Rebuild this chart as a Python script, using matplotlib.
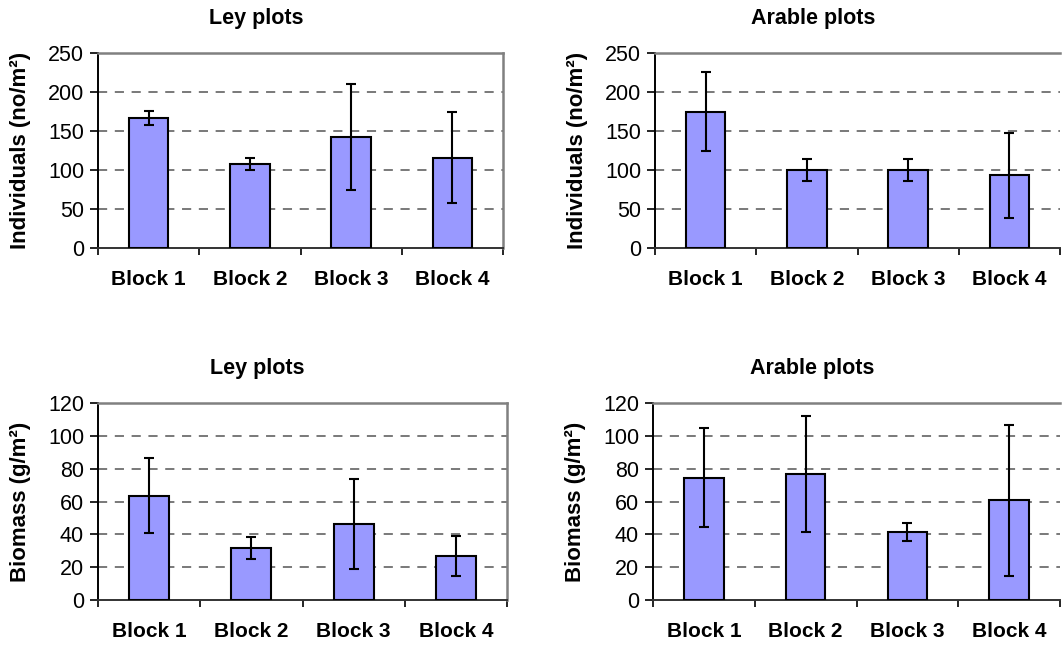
import numpy as np
import matplotlib
matplotlib.use('Agg')
import matplotlib.pyplot as plt

plt.rcParams['font.family'] = ['Liberation Sans', 'DejaVu Sans']

blocks = ['Block 1', 'Block 2', 'Block 3', 'Block 4']

ley_ind = [167, 108, 142, 116]
ley_ind_err = [9, 8, 68, 58]
ara_ind = [175, 100, 100, 93]
ara_ind_err = [51, 14, 14, 55]

ley_bio = [63.5, 31.8, 46.5, 26.7]
ley_bio_err = [22.7, 6.7, 27.4, 12.2]
ara_bio = [74.6, 76.8, 41.4, 60.9]
ara_bio_err = [30, 35.5, 5.5, 46]

W, H = 1063, 645
fig = plt.figure(figsize=(W / 100, H / 100), dpi=100)


def px_axes(left, top, right, bottom):
    return fig.add_axes([left / W, 1 - bottom / H, (right - left) / W, (bottom - top) / H])


def panel(ax, vals, errs, title, ylabel, ymax, step, cut_right=False):
    x = np.arange(len(blocks))
    ax.bar(x, vals, width=0.39, color='#9999ff', edgecolor='black', linewidth=1.5, zorder=3)
    ax.errorbar(x, vals, yerr=errs, fmt='none', ecolor='black', elinewidth=1.5,
                capsize=3.8, capthick=1.5, zorder=4)
    ax.set_xlim(-0.5, len(blocks) - 0.5)
    ax.set_ylim(0, ymax)
    ax.set_yticks(np.arange(0, ymax + 1, step))
    ax.set_xticks(x)
    ax.set_xticklabels(blocks, fontsize=15, fontweight='bold')
    ax.set_xticks(np.arange(-0.5, len(blocks)), minor=True)
    ax.tick_params(axis='x', which='major', length=0, pad=16)
    ax.tick_params(axis='x', which='minor', length=5, width=1.2, direction='out')
    ax.tick_params(axis='y', length=6, width=1.2, pad=4, labelsize=15.5)
    for y in np.arange(step, ymax, step):
        ax.axhline(y, color='#555555', linestyle=(0, (6, 5)), linewidth=1.1, zorder=1)
    ax.spines['top'].set_color('#808080')
    ax.spines['top'].set_linewidth(1.8)
    ax.spines['right'].set_color('#808080')
    ax.spines['right'].set_linewidth(1.8)
    ax.spines['left'].set_linewidth(1.4)
    ax.spines['bottom'].set_linewidth(1.4)
    ax.spines['bottom'].set_color('#333333')
    if cut_right:
        ax.spines['right'].set_visible(False)
    ax.set_ylabel(ylabel, fontsize=16, fontweight='bold')
    ax.annotate(title, xy=(0.39, 1), xycoords='axes fraction', xytext=(0, 25),
                textcoords='offset points', ha='center', va='center',
                fontsize=15.5, fontweight='bold')
    ax.yaxis.set_label_coords(-67 / (ax.get_position().width * W), 0.5)


ax1 = px_axes(98, 53, 503, 248)
ax2 = px_axes(655, 53, 1060, 248)
ax3 = px_axes(98, 403, 507, 600)
ax4 = px_axes(653, 403, 1060, 600)

panel(ax1, ley_ind, ley_ind_err, 'Ley plots', 'Individuals (no/m²)', 250, 50)
panel(ax2, ara_ind, ara_ind_err, 'Arable plots', 'Individuals (no/m²)', 250, 50, cut_right=True)
panel(ax3, ley_bio, ley_bio_err, 'Ley plots', 'Biomass (g/m²)', 120, 20)
panel(ax4, ara_bio, ara_bio_err, 'Arable plots', 'Biomass (g/m²)', 120, 20, cut_right=True)

fig.savefig('out.png', dpi=100)
plt.close()
